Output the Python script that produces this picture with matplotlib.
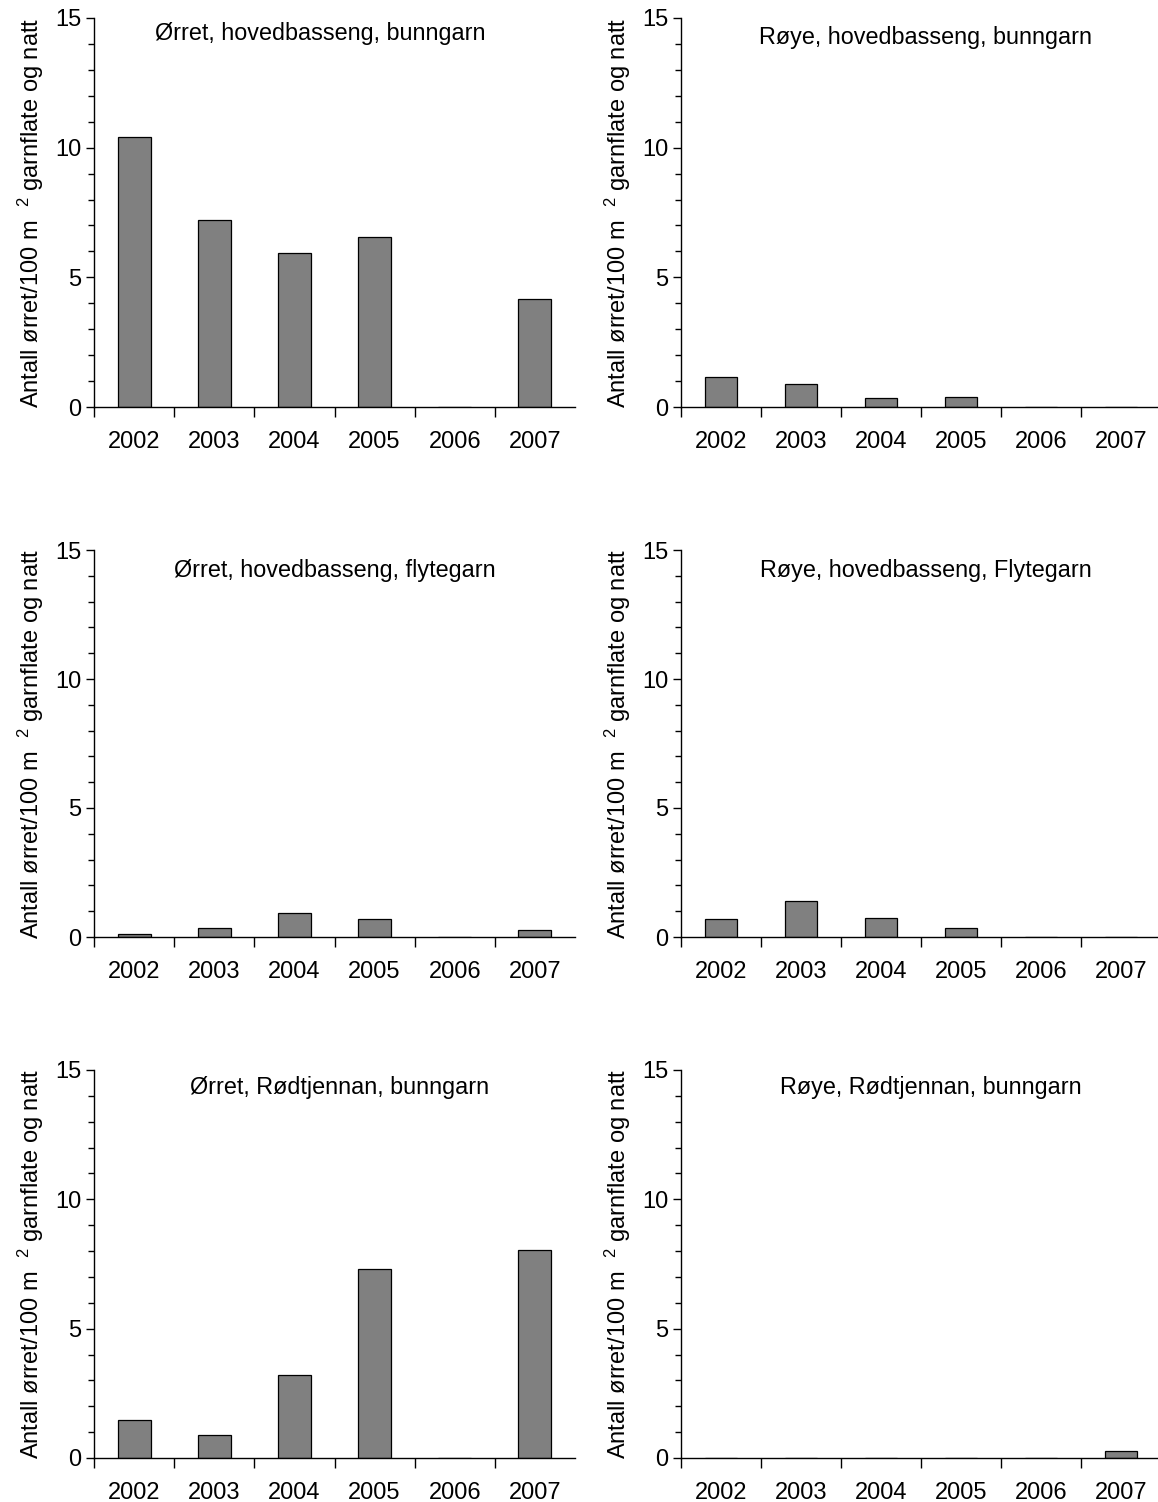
import matplotlib
matplotlib.use("Agg")
import matplotlib.pyplot as plt
from matplotlib.ticker import MultipleLocator, FixedLocator
import numpy as np

plt.rcParams['font.family'] = ['Liberation Sans', 'DejaVu Sans']
plt.rcParams['mathtext.fontset'] = 'custom'
plt.rcParams['mathtext.rm'] = 'Liberation Sans'
plt.rcParams['mathtext.it'] = 'Liberation Sans'

years = ['2002', '2003', '2004', '2005', '2006', '2007']

orret_hoved_bunn = [10.4, 7.2, 5.95, 6.57, 0, 4.17]
roye_hoved_bunn = [1.15, 0.87, 0.34, 0.39, 0, 0]
orret_hoved_flyte = [0.12, 0.35, 0.93, 0.70, 0, 0.27]
roye_hoved_flyte = [0.70, 1.38, 0.75, 0.36, 0, 0]
orret_rod_bunn = [1.48, 0.90, 3.22, 7.30, 0, 8.05]
roye_rod_bunn = [0, 0, 0, 0, 0, 0.26]

titles = ['Ørret, hovedbasseng, bunngarn', 'Røye, hovedbasseng, bunngarn',
          'Ørret, hovedbasseng, flytegarn', 'Røye, hovedbasseng, Flytegarn',
          'Ørret, Rødtjennan, bunngarn', 'Røye, Rødtjennan, bunngarn']
series = [orret_hoved_bunn, roye_hoved_bunn, orret_hoved_flyte,
          roye_hoved_flyte, orret_rod_bunn, roye_rod_bunn]
ylabel = 'Antall ørret/100 m  $^{2}$ garnflate og natt'

W, H = 1158, 1502
fig = plt.figure(figsize=(W / 100, H / 100), dpi=100)

lefts = [94, 681]
widths = [481, 480]
rows = [(18, 407), (550, 937), (1070, 1458)]
title_pos = [(0.47, 0.961), (0.51, 0.951), (0.50, 0.948), (0.51, 0.948),
             (0.51, 0.956), (0.52, 0.956)]

for i, (vals, title) in enumerate(zip(series, titles)):
    r, c = divmod(i, 2)
    top, bot = rows[r]
    ax = fig.add_axes([lefts[c] / W, 1 - bot / H, widths[c] / W, (bot - top) / H])
    x = np.arange(len(years))
    ax.bar(x, vals, width=0.41, color='#808080', edgecolor='black', linewidth=0.9, zorder=2)
    ax.set_xlim(-0.5, len(years) - 0.5)
    ax.set_ylim(0, 15)
    for s in ['top', 'right']:
        ax.spines[s].set_visible(False)
    for s in ['left', 'bottom']:
        ax.spines[s].set_linewidth(1.0)
        ax.spines[s].set_zorder(3)
    ax.yaxis.set_major_locator(FixedLocator([0, 5, 10, 15]))
    ax.yaxis.set_minor_locator(MultipleLocator(1))
    ax.tick_params(axis='y', which='major', direction='out', length=6, width=1, labelsize=17, pad=3)
    ax.tick_params(axis='y', which='minor', direction='out', length=4, width=1)
    ax.set_xticks(x)
    ax.set_xticklabels(years)
    ax.xaxis.set_minor_locator(FixedLocator(np.arange(-0.5, len(years) - 0.5, 1.0)))
    ax.tick_params(axis='x', which='major', length=0, labelsize=17, pad=17)
    ax.tick_params(axis='x', which='minor', direction='out', length=7, width=1)
    ax.set_ylabel(ylabel, fontsize=17, labelpad=7)
    tx, ty = title_pos[i]
    ax.text(tx, ty, title, transform=ax.transAxes, ha='center', va='center', fontsize=16.8)

fig.savefig('out.png', dpi=100)
